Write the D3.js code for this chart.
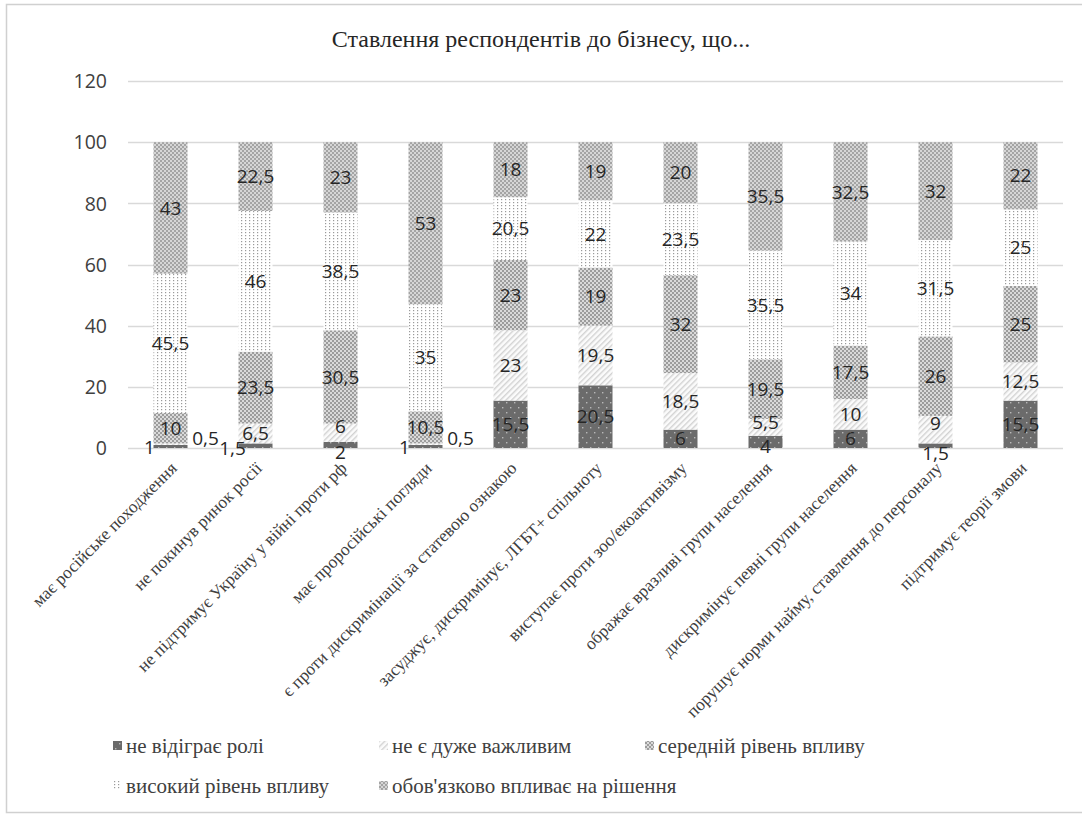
<!DOCTYPE html>
<html>
<head>
<meta charset="utf-8">
<script src="https://cdn.jsdelivr.net/npm/d3@7/dist/d3.min.js"></script>
<style>
  html, body { margin: 0; padding: 0; background: #fff; }
  svg { display: block; }
</style>
</head>
<body>
<svg id="chart" width="1082" height="814"></svg>
<script>
// Categories (business attitudes) and the five response levels, in %
const categories = [
  "має російське походження",
  "не покинув ринок росії",
  "не підтримує Україну у війні проти рф",
  "має проросійські погляди",
  "є проти дискримінації за статевою ознакою",
  "засуджує, дискримінує, ЛГБТ+ спільноту",
  "виступає проти зоо/екоактивізму",
  "ображає вразливі групи населення",
  "дискримінує певні групи населення",
  "порушує норми найму, ставлення до персоналу",
  "підтримує теорії змови"
];
const seriesNames = [
  "не відіграє ролі",
  "не є дуже важливим",
  "середній рівень впливу",
  "високий рівень впливу",
  "обов'язково впливає на рішення"
];
const noRole      = [1, 1.5, 2, 1, 15.5, 20.5, 6, 4, 6, 1.5, 15.5];
const notVeryImp  = [0.5, 6.5, 6, 0.5, 23, 19.5, 18.5, 5.5, 10, 9, 12.5];
const mediumImp   = [10, 23.5, 30.5, 10.5, 23, 19, 32, 19.5, 17.5, 26, 25];
const highImp     = [45.5, 46, 38.5, 35, 20.5, 22, 23.5, 35.5, 34, 31.5, 25];
const mandatory   = [43, 22.5, 23, 53, 18, 19, 20, 35.5, 32.5, 32, 22];
const yTicks = [0, 20, 40, 60, 80, 100, 120];
const title = "Ставлення респондентів до бізнесу, що...";

const seriesValues = [noRole, notVeryImp, mediumImp, highImp, mandatory];

const SERIF = "Liberation Serif";
const SANS = "Open Sans";

const svg = d3.select("#chart");

// ---- fill patterns for each level ----
const defs = svg.append("defs");
function pattern(id, w, h, build, transform) {
  const p = defs.append("pattern").attr("id", id)
    .attr("patternUnits", "userSpaceOnUse").attr("width", w).attr("height", h);
  if (transform) p.attr("patternTransform", transform);
  build(p);
}
// dark with light dots
pattern("p0", 8, 10, p => {
  p.append("rect").attr("width", 8).attr("height", 10).attr("fill", "#6b6b6b");
  p.append("rect").attr("x", 2).attr("y", 2).attr("width", 1.4).attr("height", 1.4).attr("fill", "#b8b8b8");
  p.append("rect").attr("x", 6).attr("y", 7).attr("width", 1.4).attr("height", 1.4).attr("fill", "#b8b8b8");
});
// light diagonal hatching
pattern("p1", 4, 4, p => {
  p.append("rect").attr("width", 4).attr("height", 4).attr("fill", "#fbfbfb");
  p.append("rect").attr("x", 0).attr("width", 1.4).attr("height", 4).attr("fill", "#d2d2d2");
}, "rotate(45)");
// fine checkerboard
pattern("p2", 4, 4, p => {
  p.append("rect").attr("width", 4).attr("height", 4).attr("fill", "#dadada");
  p.append("rect").attr("width", 2).attr("height", 2).attr("fill", "#9c9c9c");
  p.append("rect").attr("x", 2).attr("y", 2).attr("width", 2).attr("height", 2).attr("fill", "#9c9c9c");
});
// white with columns of small dots
pattern("p3", 4, 3, p => {
  p.append("rect").attr("width", 4).attr("height", 3).attr("fill", "#ffffff");
  p.append("rect").attr("x", 1).attr("y", 1).attr("width", 1.2).attr("height", 1.2).attr("fill", "#9a9a9a");
});
// fine checkerboard, slightly lighter
pattern("p4", 4, 4, p => {
  p.append("rect").attr("width", 4).attr("height", 4).attr("fill", "#d6d6d6");
  p.append("rect").attr("width", 2).attr("height", 2).attr("fill", "#a4a4a4");
  p.append("rect").attr("x", 2).attr("y", 2).attr("width", 2).attr("height", 2).attr("fill", "#a4a4a4");
});
const fills = ["url(#p0)", "url(#p1)", "url(#p2)", "url(#p3)", "url(#p4)"];

// ---- outer frame ----
svg.append("rect").attr("x", 6.5).attr("y", 4.5).attr("width", 1100).attr("height", 808)
  .attr("fill", "#fff").attr("stroke", "#d0d0d0").attr("stroke-width", 1.5);

// ---- title ----
svg.append("text").attr("x", 541).attr("y", 47).attr("text-anchor", "middle")
  .attr("font-family", SERIF).attr("font-size", 24).attr("fill", "#262626").text(title);

// ---- scales ----
const plotLeft = 128, plotRight = 1063, plotTop = 81, plotBottom = 448;
const x = d3.scaleBand().domain(categories).range([plotLeft, plotRight])
  .paddingInner(0.6).paddingOuter(0.3);
const y = d3.scaleLinear().domain([0, 120]).range([plotBottom, plotTop]);

// gridlines
svg.append("g").selectAll("line").data(yTicks).join("line")
  .attr("x1", plotLeft).attr("x2", plotRight)
  .attr("y1", d => Math.round(y(d)) + 0.5).attr("y2", d => Math.round(y(d)) + 0.5)
  .attr("stroke", "#d9d9d9").attr("stroke-width", 1.3);

// y axis labels
const yAxis = d3.axisLeft(y).tickValues(yTicks).tickSize(0).tickPadding(0);
const yG = svg.append("g").attr("transform", "translate(107,0)").call(yAxis);
yG.select(".domain").remove();
yG.attr("font-family", SANS).attr("font-size", 19.5);
yG.selectAll("text").attr("fill", "#404040").attr("dy", "0.35em");

// ---- stacked bars ----
const table = categories.map((c, i) => {
  const row = { category: c };
  seriesNames.forEach((s, k) => row[s] = seriesValues[k][i]);
  return row;
});
const stacked = d3.stack().keys(seriesNames)(table);

const layers = svg.append("g").selectAll("g").data(stacked).join("g")
  .attr("fill", (d, k) => fills[k]);
layers.selectAll("rect").data(d => d).join("rect")
  .attr("x", d => x(d.data.category))
  .attr("width", x.bandwidth())
  .attr("y", d => y(d[1]))
  .attr("height", d => y(d[0]) - y(d[1]));

// ---- value labels ----
// small segments near the baseline get their labels shifted aside
const labelNudge = {
  "0-0": [-21, 1], "0-1": [35, -6],
  "1-0": [-23, 3],
  "2-0": [0, 7], "2-1": [0, -6],
  "3-0": [-21, 1], "3-1": [35, -6],
  "7-0": [0, 4], "7-1": [0, -5],
  "9-0": [0, 8], "9-1": [0, -6]
};
const fmt = v => String(v).replace(".", ",");
const labelG = svg.append("g").attr("font-family", SANS).attr("font-size", 19).attr("fill", "#262626");
stacked.forEach((layer, k) => {
  layer.forEach((d, i) => {
    const nudge = labelNudge[i + "-" + k] || [0, 0];
    labelG.append("text")
      .attr("x", x(d.data.category) + x.bandwidth() / 2 + nudge[0])
      .attr("y", (y(d[0]) + y(d[1])) / 2 + nudge[1])
      .attr("dy", "0.35em").attr("text-anchor", "middle")
      .text(fmt(d[1] - d[0]));
  });
});

// ---- category labels, rotated ----
svg.append("g").attr("font-family", SERIF).attr("font-size", 17.5).attr("fill", "#404040")
  .selectAll("text").data(categories).join("text")
  .attr("transform", d => `translate(${x(d) + x.bandwidth() / 2 + 3},${plotBottom + 17}) rotate(-45)`)
  .attr("text-anchor", "end").attr("dy", "0.35em")
  .text(d => d);

// ---- legend ----
const legendPos = [[113, 746], [379, 746], [645, 746], [113, 786], [379, 786]];
const lg = svg.append("g").attr("font-family", SERIF).attr("font-size", 21).attr("fill", "#404040")
  .selectAll("g").data(seriesNames).join("g")
  .attr("transform", (d, k) => `translate(${legendPos[k][0]},${legendPos[k][1]})`);
lg.append("rect").attr("x", 0).attr("y", -5).attr("width", 9).attr("height", 9)
  .attr("fill", (d, k) => fills[k]);
lg.append("text").attr("x", 13).attr("dy", "0.35em")
  .text(d => d);
</script>
</body>
</html>
